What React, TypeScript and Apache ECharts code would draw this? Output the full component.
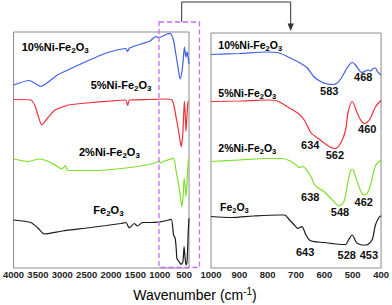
import React, { useEffect, useRef } from "react";
import * as echarts from "echarts";

// ---------- data (wavenumber cm-1, offset transmittance a.u.) ----------
const surveyTicks = [4000, 3500, 3000, 2500, 2000, 1500, 1000, 500];
const zoomTicks = [1000, 900, 800, 700, 600, 500, 400];

const names = ["10%Ni-Fe2O3", "5%Ni-Fe2O3", "2%Ni-Fe2O3", "Fe2O3"];

const ni10Survey = [
  [4000, 183], [3680, 187.5], [3440, 181.5], [3100, 193], [2600, 204.5], [2100, 215],
  [1700, 219.5], [1660, 216.5], [1620, 220], [1200, 227], [1087, 231.3], [1020, 230.5],
  [850, 234], [784, 234.7], [720, 228], [683, 218], [630, 202], [582, 189], [540, 198],
  [515, 210], [495, 221], [478, 215], [461, 211], [445, 215], [434, 216], [420, 211], [400, 204],
];
const ni5Survey = [
  [4000, 168.5], [3645, 168], [3560, 162], [3500, 153], [3423, 143], [3300, 150],
  [3150, 158], [2938, 162], [2870, 163], [2500, 165], [2000, 167], [1700, 168],
  [1658, 162.5], [1620, 168], [1200, 168.5], [900, 169], [749, 168], [700, 160],
  [649, 146.5], [600, 133], [562, 121.3], [530, 132], [510, 153], [495, 167],
  [480, 156], [461, 136.5], [445, 150], [425, 165], [414, 167], [400, 167],
];
const ni2Survey = [
  [4000, 109], [3710, 106.5], [3475, 109], [3307, 107], [3150, 103], [3005, 99],
  [2938, 102.5], [2900, 98], [2869, 97.5], [2500, 97.5], [2100, 98], [1700, 100],
  [1400, 102], [1100, 105], [1020, 107], [990, 105], [900, 107], [717, 109.7],
  [663, 96.3], [630, 88], [590, 76], [548, 61.3], [520, 72], [501, 89.7], [480, 82],
  [461, 71.3], [440, 86], [414, 108], [400, 109],
];
const fe2o3Survey = [
  [4000, 48], [3645, 45.5], [3500, 40], [3374, 34], [3000, 37], [2500, 40], [2096, 42.5],
  [1800, 44.5], [1692, 45.5], [1626, 40], [1525, 44.5], [1456, 42], [1355, 45.5],
  [1188, 45.5], [1020, 46], [900, 47], [764, 48.7], [717, 33], [683, 29.7], [660, 18],
  [649, 9.7], [600, 6], [562, 3.7], [525, 6], [501, 21.3], [480, 10], [461, 3],
  [440, 6], [414, 38], [400, 49.7],
];

const ni10Zoom = [
  [1000, 213.5], [900, 214.5], [800, 216], [760, 215], [720, 210], [680, 204], [660, 200],
  [636, 191], [610, 186], [589, 184], [570, 183.5], [555, 185], [540, 190], [520, 200],
  [502, 205.5], [490, 203], [478, 198], [468, 195.5], [455, 197], [445, 198], [437, 197],
  [428, 199.5], [420, 200], [414, 197], [408, 195], [400, 193],
];
const ni5Zoom = [
  [1000, 166.5], [900, 167], [800, 168], [770, 167.5], [741, 163], [694, 155], [671, 148],
  [647, 135], [624, 130], [601, 125], [580, 121], [562, 119.5], [542, 125], [525, 138],
  [517, 155], [502, 166.5], [484, 155], [472, 148], [460, 144.5], [450, 145.5],
  [437, 150], [420, 161], [400, 167.5],
];
const ni2Zoom = [
  [1000, 106.5], [900, 108], [800, 109.5], [750, 109.5], [720, 107], [700, 103],
  [688, 100.5], [677, 101.5], [659, 96.5], [645, 90], [636, 84], [625, 80.5], [601, 76.5],
  [572, 68], [548, 62], [531, 66.5], [519, 83], [507, 98], [500, 98.5], [490, 91],
  [472, 77], [460, 73], [450, 74], [437, 83], [420, 102], [400, 108],
];
const fe2o3Zoom = [
  [1000, 51.5], [927, 50.5], [850, 52], [760, 53], [741, 53], [723, 48], [706, 43],
  [694, 39.7], [680, 41.3], [665, 33], [653, 28], [636, 26.3], [600, 25.5], [577, 24.7],
  [540, 23.5], [525, 23.5], [515, 28], [502, 33], [490, 27], [484, 24.7], [467, 23],
  [453, 23], [432, 28], [420, 43], [408, 50.3], [400, 52.3],
];

// peak annotations: [label, wavenumber anchor, transmittance anchor]
const ni10Peaks = [["583", 583, 177], ["468", 463, 191.3]];
const ni5Peaks = [["634", 650, 123], ["562", 563, 113], ["460", 449, 139]];
const ni2Peaks = [["638", 650, 71.3], ["548", 545, 56.3], ["462", 461, 66.3]];
const fe2o3Peaks = [["643", 668, 16.3], ["528", 521, 13], ["453", 443, 13]];

const colors = ["#3f5fe6", "#f0303c", "#7fe02a", "#1c1c1c"];
const FONT = "Liberation Sans";

function formula(label: string) {
  const base = label.replace(/Fe2O3$/, "");
  return `{a|${base}Fe}{s|2}{a|O}{s|3}`;
}

export default function App() {
  const ref = useRef<HTMLDivElement>(null);
  useEffect(() => {
    if (!ref.current) return;
    const chart = echarts.init(ref.current, undefined, { renderer: "svg" });

    const richName = (fs: number) => ({
      a: { fontSize: fs, fontWeight: "bold", fontFamily: FONT, color: "#111" },
      s: { fontSize: fs - 3, fontWeight: "bold", fontFamily: FONT, color: "#111", padding: [7, 0, 0, 0] },
    });

    const survey = [ni10Survey, ni5Survey, ni2Survey, fe2o3Survey];
    const zoom = [ni10Zoom, ni5Zoom, ni2Zoom, fe2o3Zoom];
    const peaks = [ni10Peaks, ni5Peaks, ni2Peaks, fe2o3Peaks];

    const series: any[] = [];
    survey.forEach((d, i) =>
      series.push({
        type: "line", name: names[i] + " survey", xAxisIndex: 0, yAxisIndex: 0,
        data: d, showSymbol: false, smooth: 0.2,
        lineStyle: { color: colors[i], width: 1.2 }, silent: true,
      })
    );
    zoom.forEach((d, i) =>
      series.push({
        type: "line", name: names[i], xAxisIndex: 1, yAxisIndex: 1,
        data: d, showSymbol: false, smooth: 0.3,
        lineStyle: { color: colors[i], width: 1.2 }, silent: true,
        markPoint: {
          symbol: "circle", symbolSize: 1, itemStyle: { color: "rgba(0,0,0,0)" },
          label: {
            show: true, position: "inside", formatter: (p: any) => p.name,
            fontSize: 11, fontWeight: "bold", fontFamily: FONT, color: "#111",
          },
          data: peaks[i].map((p) => ({ name: p[0], coord: [p[1], p[2]] })),
        },
      })
    );

    const nameText = (label: string, x: number, y: number, fs: number) => ({
      type: "text", x, y,
      style: { text: formula(label), rich: richName(fs), verticalAlign: "middle", align: "left" },
    });

    const tickFmt = (v: number) => String(v);

    chart.setOption({
      animation: false,
      backgroundColor: "#fff",
      grid: [
        { left: 10.5, top: 32, width: 178.5, height: 236, show: true, borderColor: "#8a8a8a", borderWidth: 1 },
        { left: 211, top: 33, width: 171, height: 235, show: true, borderColor: "#8a8a8a", borderWidth: 1 },
      ],
      xAxis: [
        {
          type: "value", gridIndex: 0, min: 400, max: 4000, inverse: true,
          axisLine: { show: false }, axisTick: { show: false }, splitLine: { show: false },
          axisLabel: { customValues: surveyTicks, formatter: tickFmt, margin: 1, fontSize: 9.5, fontWeight: "bold", fontFamily: FONT, color: "#222" },
        },
        {
          type: "value", gridIndex: 1, min: 400, max: 1000, interval: 100, inverse: true,
          axisLine: { show: false }, axisTick: { show: false }, splitLine: { show: false },
          axisLabel: { customValues: zoomTicks, formatter: tickFmt, margin: 1, fontSize: 9.5, fontWeight: "bold", fontFamily: FONT, color: "#222", showMinLabel: true, showMaxLabel: true },
        },
      ],
      yAxis: [
        { type: "value", gridIndex: 0, min: 0, max: 236, show: false },
        { type: "value", gridIndex: 1, min: 0, max: 235, show: false },
      ],
      series,
      graphic: [
        {
          type: "rect", shape: { x: 159, y: 22, width: 40.5, height: 245.5 },
          style: { fill: "none", stroke: "#c86cf2", lineWidth: 1.3, lineDash: [5, 3] }, z: 10,
        },
        {
          type: "polyline", shape: { points: [[181.7, 22], [181.7, 2], [290.7, 2], [290.7, 29]] },
          style: { stroke: "#333", lineWidth: 1, fill: "none" }, z: 10,
        },
        {
          type: "polygon", shape: { points: [[287.6, 23.5], [293.8, 23.5], [290.7, 31]] },
          style: { fill: "#333" }, z: 10,
        },
        nameText(names[0], 21.7, 46.5, 11),
        nameText(names[1], 90.7, 84.5, 11),
        nameText(names[2], 79, 152, 11),
        nameText(names[3], 93.3, 209.5, 11),
        nameText(names[0], 218.3, 45, 10.5),
        nameText(names[1], 218.3, 92.5, 10.5),
        nameText(names[2], 218.3, 147.5, 10.5),
        nameText(names[3], 220, 207, 10.5),
        {
          type: "text", x: 195, y: 295,
          style: {
            text: "{a|Wavenumber (cm}{p|-1}{a|)}", align: "center", verticalAlign: "middle",
            rich: {
              a: { fontSize: 14, fontFamily: FONT, color: "#111" },
              p: { fontSize: 10, fontFamily: FONT, color: "#111", padding: [0, 0, 8, 0] },
            },
          },
        },
      ],
    });
    return () => chart.dispose();
  }, []);
  return (
    <div
      ref={ref}
      style={{ position: "fixed", left: 0, top: 0, width: 392, height: 305, background: "#fff" }}
    />
  );
}
